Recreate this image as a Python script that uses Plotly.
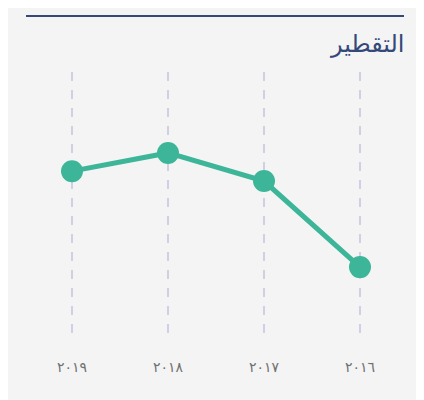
import plotly.graph_objects as go

# data (years in Arabic-Indic digits, chronological order)
years = ["٢٠١٦", "٢٠١٧", "٢٠١٨", "٢٠١٩"]
values = [27.2, 59.3, 69.8, 63.0]
title_text = "التقطير"

W, H = 416, 392          # page body has an 8px margin in the browser
L, R, T, B = 16, 16, 64, 60
PW, PH = W - L - R, H - T - B


def px_x(x):
    return (x - L) / PW


def px_y(y):
    return (H - B - y) / PH


fig = go.Figure()
fig.add_trace(go.Scatter(
    x=years,
    y=values,
    mode="lines+markers",
    line=dict(color="#3db598", width=5),
    marker=dict(color="#3db598", size=22),
    hoverinfo="x+y",
    showlegend=False,
))

fig.update_layout(
    width=W,
    height=H,
    margin=dict(l=L, r=R, t=T, b=B),
    paper_bgcolor="#f4f4f4",
    plot_bgcolor="#f4f4f4",
    font=dict(family="DejaVu Sans"),
    xaxis=dict(
        type="category",
        range=[3.5, -0.5],
        showgrid=True,
        gridcolor="#d0d0e2",
        gridwidth=1.5,
        griddash="dash",
        zeroline=False,
        showline=False,
        ticks="outside",
        ticklen=14,
        tickcolor="rgba(0,0,0,0)",
        tickfont=dict(size=14, color="#707070"),
    ),
    yaxis=dict(
        range=[0, 100],
        showgrid=False,
        zeroline=False,
        showticklabels=False,
        showline=False,
    ),
    shapes=[dict(
        type="line", xref="paper", yref="paper",
        x0=px_x(18), x1=px_x(396),
        y0=px_y(8), y1=px_y(8),
        line=dict(color="#34497a", width=2),
    )],
    annotations=[dict(
        text=title_text, xref="paper", yref="paper",
        x=px_x(399), y=px_y(36),
        xanchor="right", yanchor="middle", showarrow=False,
        font=dict(size=24, color="#34497a"),
    )],
)

fig.write_html("out.html")
